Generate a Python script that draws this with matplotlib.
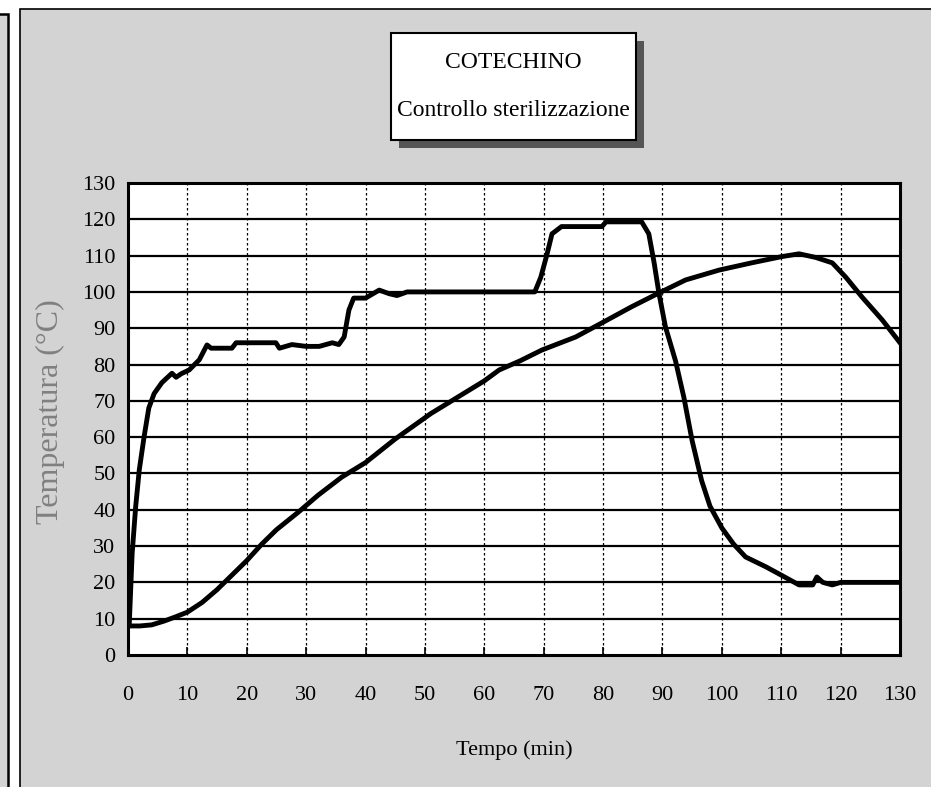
import numpy as np
import matplotlib
matplotlib.use('Agg')
import matplotlib.pyplot as plt
from matplotlib.patches import Rectangle

plt.rcParams['font.family'] = ['Liberation Serif', 'DejaVu Serif']

# autoclave temperature (outer curve)
t_auto = [0, 0.2, 0.7, 1.3, 1.9, 2.7, 3.5, 4.4, 5.7, 7.4, 8.1, 9, 10.3, 12, 13.3, 14,
          17.5, 18.2, 24.9, 25.5, 27.6, 30, 32.2, 34.4, 35.5, 36.4, 37.2, 38, 40, 42.3,
          44, 45.3, 47, 50, 55, 60, 65, 68.5, 69.5, 70.5, 71.4, 73, 76, 79.8, 80.5, 86.5,
          87.7, 88.6, 89.4, 90.5, 92.2, 93.6, 95, 96.6, 98, 100, 102, 104, 107.4, 110,
          113, 115.3, 116, 117, 118.6, 120, 125, 130]
T_auto = [8, 8, 28, 41, 51, 60, 68, 72, 75, 77.6, 76.5, 77.5, 78.5, 81.3, 85.4, 84.5,
          84.5, 86, 86, 84.5, 85.5, 85, 85, 86, 85.5, 87.6, 95, 98.3, 98.3, 100.5,
          99.5, 99, 100, 100, 100, 100, 100, 100, 104, 110, 116, 118, 118, 118, 119.3, 119.3,
          116, 108, 99.7, 90.4, 81, 71, 59, 48, 41, 35, 30.5, 27, 24.3, 22,
          19.3, 19.3, 21.5, 20, 19.3, 20, 20, 20]

# product core temperature
t_core = [0, 2, 4, 6, 8, 10, 12.5, 15, 17.5, 20, 22.5, 25, 28.8, 32, 36, 40, 45, 51,
          55, 60, 62.5, 66, 69.7, 75.4, 80.4, 84.9, 89.4, 93.9, 99.5, 105, 110, 113,
          115.8, 118.6, 120.9, 123.6, 127, 130]
T_core = [8, 8, 8.3, 9.3, 10.5, 11.8, 14.5, 18, 22, 26, 30.5, 34.5, 39.5, 44, 49, 53,
          59.5, 66.5, 70.5, 75.5, 78.5, 81, 84, 87.6, 92, 96, 99.7, 103.3, 106, 108,
          109.7, 110.5, 109.5, 108, 104, 98.6, 92.3, 86]

x_ticks = np.arange(0, 131, 10)
y_ticks = np.arange(0, 131, 10)

W, H = 931, 787
fig = plt.figure(figsize=(W / 100, H / 100), dpi=100)
fig.patch.set_facecolor('white')

def px(x, y, w, h):
    return (x / W, 1 - (y + h) / H), w / W, h / H

# background panels
xy, w, h = px(20, 9, 940, 800)
fig.patches.append(Rectangle(xy, w, h, transform=fig.transFigure, facecolor='#d3d3d3',
                             edgecolor='black', lw=1.2, zorder=-3))
xy, w, h = px(-5, 14, 12.5, 800)
fig.patches.append(Rectangle(xy, w, h, transform=fig.transFigure, facecolor='#d3d3d3',
                             edgecolor='black', lw=1.8, zorder=-3))

# title box with shadow
xy, w, h = px(399, 41, 245, 107)
fig.patches.append(Rectangle(xy, w, h, transform=fig.transFigure, facecolor='#555555',
                             edgecolor='none', zorder=-2))
xy, w, h = px(391, 33, 245, 107)
fig.patches.append(Rectangle(xy, w, h, transform=fig.transFigure, facecolor='white',
                             edgecolor='black', lw=1.5, zorder=-1))
fig.text(513 / W, 1 - 62 / H, 'COTECHINO', ha='center', va='center', fontsize=17, zorder=3)
fig.text(513 / W, 1 - 110 / H, 'Controllo sterilizzazione', ha='center', va='center',
         fontsize=17, zorder=3)

ax = fig.add_axes([128 / W, 1 - 655 / H, (900 - 128) / W, (655 - 183) / H])
ax.set_zorder(5)
ax.set_facecolor('white')
ax.plot(t_auto, T_auto, color='black', lw=3.5, solid_joinstyle='round')
ax.plot(t_core, T_core, color='black', lw=3.5, solid_joinstyle='round')

ax.set_xlim(0, 130)
ax.set_ylim(0, 130)
ax.set_xticks(x_ticks)
ax.set_yticks(y_ticks)
for v in y_ticks[1:-1]:
    ax.axhline(v, color='black', lw=1.6, zorder=0.5)
for v in x_ticks[1:-1]:
    ax.axvline(v, color='black', lw=0.9, ls=(0, (2, 2)), zorder=0.5)

for s in ax.spines.values():
    s.set_linewidth(2.2)
ax.tick_params(axis='x', direction='in', length=6, width=1.2, pad=22, labelsize=16)
ax.tick_params(axis='y', length=0, pad=9, labelsize=16)
ax.set_xlabel('Tempo (min)', fontsize=16, labelpad=26)
ax.set_ylabel('Temperatura (°C)', fontsize=23, color='#808080')
ax.yaxis.set_label_coords((65 - 128) / (900 - 128), (655 - 412) / (655 - 183))

fig.savefig('out.png', dpi=100, facecolor=fig.get_facecolor())
